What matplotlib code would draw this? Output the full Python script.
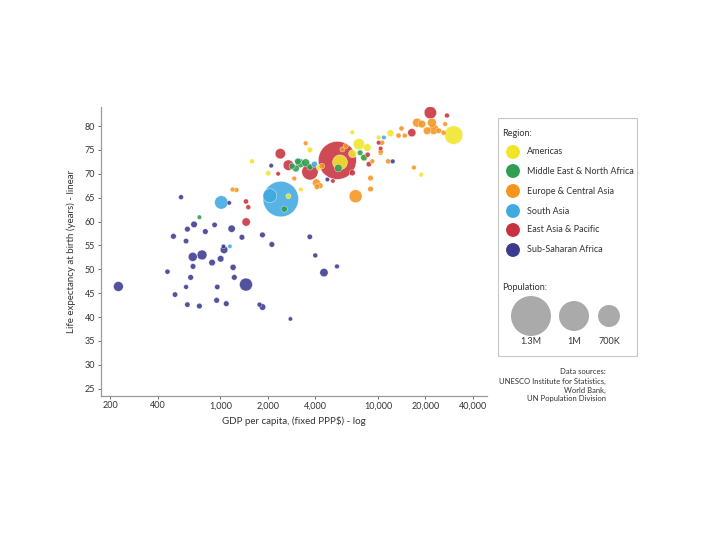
import matplotlib
matplotlib.use("Agg")
import matplotlib.pyplot as plt
from matplotlib.ticker import FixedLocator, NullLocator
import numpy as np

plt.rcParams['font.family'] = ['Lato', 'DejaVu Sans']

# ---------------- data ----------------
regions = ["Americas", "Middle East & North Africa", "Europe & Central Asia",
           "South Asia", "East Asia & Pacific", "Sub-Saharan Africa"]
region_colors = ["#f1e52a", "#2e9e50", "#f7941e", "#3fa9e0", "#c8323f", "#3b3a8e"]

# GDP per capita (PPP$), life expectancy (years), population (millions)
ssa_gdp = [225, 562, 503, 617, 680, 605, 918, 802, 1178, 1369, 1848, 2120, 1054, 1045,
           667, 764, 885, 1003, 670, 1203, 461, 647, 1225, 1452, 605, 955, 515, 617,
           735, 946, 1089, 1770, 1848, 2780, 3690, 4000, 4540, 5490, 2100, 1137, 12400, 4770]
ssa_life = [46.4, 65.1, 56.9, 58.4, 59.4, 55.9, 59.3, 57.9, 58.5, 56.7, 57.2, 55.2, 54.1, 54.8,
            52.6, 53.0, 51.4, 52.2, 50.6, 50.4, 49.5, 48.3, 48.3, 46.8, 46.3, 46.3, 44.7, 42.6,
            42.3, 43.5, 42.8, 42.6, 42.1, 39.6, 56.8, 52.9, 49.3, 50.6, 71.7, 63.9, 72.6, 68.8]
ssa_pop = [75, 8, 15, 15, 25, 12, 12, 15, 35, 15, 15, 15, 40, 4,
           60, 75, 25, 25, 15, 20, 10, 15, 15, 140, 7, 12, 12, 12,
           15, 15, 15, 8, 25, 3, 12, 8, 50, 6, 5, 4, 6, 4]

sa_gdp = [2415, 2060, 1012, 1148, 3950, 10900]
sa_life = [64.7, 65.4, 64.0, 54.8, 72.0, 77.6]
sa_pop = [1150, 165, 150, 3, 20, 5]

mena_gdp = [3206, 3475, 3010, 3100, 3700, 2540, 735, 8140, 7700, 5600, 2850]
mena_life = [72.2, 72.3, 71.1, 72.6, 71.4, 62.6, 60.9, 73.4, 74.4, 71.2, 71.6]
mena_pop = [60, 45, 30, 25, 20, 22, 5, 25, 15, 40, 20]

eca_gdp = [7210, 8970, 8970, 4066, 4300, 4100, 1195, 1265, 3475, 2940, 6240, 4400,
           10600, 10400, 11600, 14100, 13500, 14800, 17700, 19000, 22000, 22600, 20500,
           24300, 26100, 26700, 16900, 5950, 10400, 9200]
eca_life = [65.3, 66.8, 69.1, 68.1, 67.5, 67.3, 66.7, 66.6, 76.4, 69.0, 75.8, 71.6,
            76.5, 74.4, 72.6, 79.5, 78.0, 78.0, 80.7, 80.4, 80.7, 79.3, 79.0,
            79.0, 78.6, 80.4, 71.3, 75.1, 74.7, 72.6]
eca_pop = [142, 15, 15, 45, 15, 15, 7, 7, 6, 7, 10, 15,
           10, 10, 10, 10, 10, 8, 60, 40, 60, 82, 40,
           15, 10, 6, 6, 10, 8, 8]

eap_gdp = [5520, 3700, 2400, 2700, 6870, 1452, 1502, 1456, 2323, 8750, 8600, 10400,
           21500, 27400, 16400, 10100, 5170]
eap_life = [72.8, 70.4, 74.2, 71.8, 70.2, 64.2, 63.0, 59.9, 70.0, 72.0, 74.0, 75.3,
            82.8, 82.2, 78.6, 76.5, 68.5]
eap_pop = [1320, 230, 85, 88, 20, 10, 8, 50, 4, 12, 10, 4,
           127, 8, 48, 5, 4]

am_gdp = [30200, 5740, 7570, 8550, 1585, 2010, 3700, 3240, 2700, 12000, 18800, 4230,
          6900, 8200, 6870, 10100]
am_life = [78.1, 72.4, 76.2, 75.5, 72.6, 70.1, 75.0, 66.7, 65.3, 78.5, 69.8, 71.3,
           74.2, 73.3, 78.7, 77.6]
am_pop = [300, 190, 105, 40, 8, 12, 15, 5, 10, 30, 6, 15,
          45, 30, 5, 6]

x_ticks = [200, 400, 1000, 2000, 4000, 10000, 20000, 40000]
x_tick_labels = ["200", "400", "1,000", "2,000", "4,000", "10,000", "20,000", "40,000"]
y_ticks = [25, 30, 35, 40, 45, 50, 55, 60, 65, 70, 75, 80]

legend_pop_labels = ["1.3M", "1M", "700K"]
source_lines = ["Data sources:", "UNESCO Institute for Statistics,", "World Bank,",
                "UN Population Division"]

series = [
    (am_gdp, am_life, am_pop),
    (mena_gdp, mena_life, mena_pop),
    (eca_gdp, eca_life, eca_pop),
    (sa_gdp, sa_life, sa_pop),
    (eap_gdp, eap_life, eap_pop),
    (ssa_gdp, ssa_life, ssa_pop),
]

# ---------------- figure ----------------
fig = plt.figure(figsize=(7.2, 5.4), dpi=100)
ax = fig.add_axes([0.140, 0.267, 0.536, 0.535])

SIZE_K = 0.56
SIZE_MIN = 8
gx, gy, gs, gc = [], [], [], []
for (g, l, p), col in zip(series, region_colors):
    for a, b, c in zip(g, l, p):
        gx.append(a); gy.append(b); gs.append(c * SIZE_K + SIZE_MIN); gc.append(col)
order = np.argsort(gs)[::-1]
gx = np.array(gx)[order]; gy = np.array(gy)[order]
gs = np.array(gs)[order]; gc = np.array(gc)[order]
ax.scatter(gx, gy, s=gs, c=gc, alpha=0.88, edgecolors="white", linewidths=0.3, zorder=3)

ax.set_xscale("log")
ax.set_xlim(174, 49000)
ax.set_ylim(23.5, 84)
ax.xaxis.set_major_locator(FixedLocator(x_ticks))
ax.set_xticklabels(x_tick_labels)
ax.xaxis.set_minor_locator(NullLocator())
ax.set_yticks(y_ticks)
ax.tick_params(axis="both", labelsize=6.5, colors="#555555", labelcolor="#333333",
               length=2, width=0.6, pad=2)
for s in ["top", "right"]:
    ax.spines[s].set_visible(False)
for s in ["left", "bottom"]:
    ax.spines[s].set_color("#9a9a9a")
    ax.spines[s].set_linewidth(0.9)
ax.set_xlabel("GDP per capita, (fixed PPP$) - log", fontsize=7, color="#333333", labelpad=4)
ax.set_ylabel("Life expectancy at birth (years) - linear", fontsize=7, color="#333333", labelpad=6)

# ---------------- legend panel (pixel coordinates overlay) ----------------
ov = fig.add_axes([0, 0, 1, 1])
ov.set_xlim(0, 720)
ov.set_ylim(540, 0)
ov.axis("off")
ov.add_patch(plt.Rectangle((498, 118), 139, 238, fill=False, edgecolor="#c8c8c8", lw=0.8))
ov.text(502, 134, "Region:", fontsize=6.5, color="#333333", va="center", ha="left")
row_y = [152, 171, 191, 211, 230, 250]
for name, col, yy in zip(regions, region_colors, row_y):
    ov.scatter([513], [yy], s=100, color=col, edgecolors="none", zorder=3)
    ov.text(527, yy, name, fontsize=6.5, color="#333333", va="center", ha="left")
ov.text(502, 287, "Population:", fontsize=6.5, color="#333333", va="center", ha="left")
for xx, sz, lab in zip([531, 574, 609], [828, 466, 250], legend_pop_labels):
    ov.scatter([xx], [316], s=sz, color="#aaaaaa", edgecolors="none", zorder=3)
    ov.text(xx, 342, lab, fontsize=6.5, color="#333333", va="center", ha="center")
for i, line in enumerate(source_lines):
    ov.text(606, 372 + i * 9, line, fontsize=5.5, color="#333333", va="center", ha="right")

fig.savefig("out.png", dpi=100, facecolor="white")
